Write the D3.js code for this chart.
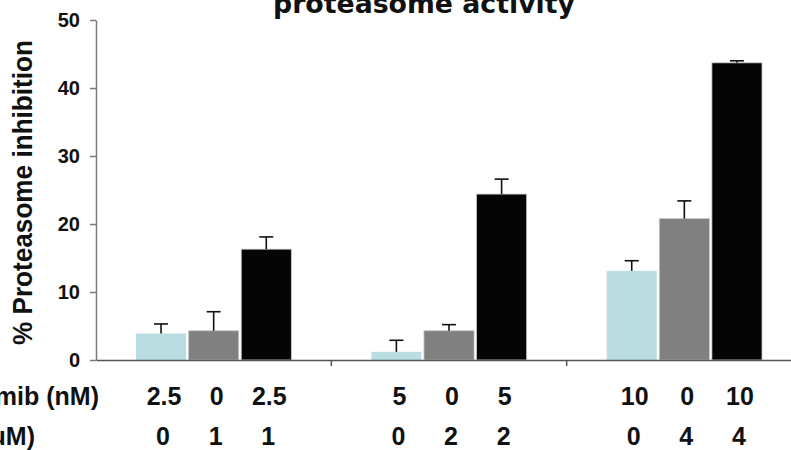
<!DOCTYPE html>
<html>
<head>
<meta charset="utf-8">
<script src="https://cdn.jsdelivr.net/npm/d3@7"></script>
<style>
  html, body { margin: 0; padding: 0; background: #fff; }
  svg { display: block; }
</style>
</head>
<body>
<svg id="chart" width="791" height="450"></svg>
<script>
// ---- data ----
const groups = ["g1", "g2", "g3"];
const series = ["bortezomib", "drug", "combination"];
const seriesColors = ["#b9dde1", "#808080", "#050505"];
const means = [
  [3.9, 4.3, 16.3],
  [1.2, 4.3, 24.4],
  [13.1, 20.8, 43.7]
];
const errors = [
  [1.4, 2.8, 1.8],
  [1.7, 0.9, 2.2],
  [1.5, 2.6, 0.3]
];
const row1Labels = [["2.5", "0", "2.5"], ["5", "0", "5"], ["10", "0", "10"]];
const row2Labels = [["0", "1", "1"], ["0", "2", "2"], ["0", "4", "4"]];
const row1Title = "Bortezomib (nM)";
const row2Title = "(uM)";
const yTicks = [0, 10, 20, 30, 40, 50];
const titleText = "proteasome activity";
const yLabelText = "% Proteasome inhibition";

(function () {
// ---- layout ----
const svg = d3.select("#chart");
const mLeft = 96, mRight = 802, mTop = 20, mBottom = 360;

const y = d3.scaleLinear().domain([0, 50]).range([mBottom, mTop]);
const x0 = d3.scaleBand().domain(groups).range([mLeft, mRight]).paddingInner(0).paddingOuter(0);
const bw0 = x0.bandwidth();
const x1 = d3.scaleBand().domain(series).range([bw0 * 0.17, bw0 * 0.83]).paddingInner(0.048);

// title
svg.append("text")
  .attr("x", 424).attr("y", 13)
  .attr("text-anchor", "middle")
  .attr("font-family", "DejaVu Sans, Verdana, sans-serif")
  .attr("font-weight", "bold")
  .attr("font-size", 26)
  .attr("textLength", 302).attr("lengthAdjust", "spacingAndGlyphs")
  .attr("fill", "#111")
  .text(titleText);

// y label
svg.append("text")
  .attr("transform", "translate(32," + ((40 + 345) / 2) + ") rotate(-90)")
  .attr("text-anchor", "middle")
  .attr("font-family", "Liberation Sans, Arial, sans-serif")
  .attr("font-weight", "bold")
  .attr("font-size", 28)
  .attr("textLength", 305).attr("lengthAdjust", "spacingAndGlyphs")
  .attr("fill", "#111")
  .text(yLabelText);

// y axis
const yAxis = d3.axisLeft(y).tickValues(yTicks).tickSize(6).tickPadding(10).tickSizeOuter(0);
const gy = svg.append("g").attr("transform", `translate(${mLeft},0)`).call(yAxis);
gy.select(".domain").attr("stroke", "#7a7a7a").attr("stroke-width", 1.5);
gy.selectAll(".tick line").attr("stroke", "#7a7a7a").attr("stroke-width", 1.5);
gy.selectAll(".tick text")
  .attr("font-family", "Liberation Sans, Arial, sans-serif")
  .attr("font-weight", "bold")
  .attr("font-size", 20)
  .attr("fill", "#111");

// bars
const gGroups = svg.append("g").selectAll("g").data(groups).join("g")
  .attr("transform", d => `translate(${x0(d)},0)`);

gGroups.each(function(g, gi) {
  const sel = d3.select(this);
  const rows = series.map((s, si) => ({ s, si, v: means[gi][si], e: errors[gi][si] }));
  sel.selectAll("rect").data(rows).join("rect")
    .attr("x", d => x1(d.s))
    .attr("y", d => y(d.v))
    .attr("width", x1.bandwidth())
    .attr("height", d => y(0) - y(d.v))
    .attr("fill", d => seriesColors[d.si])
    .attr("stroke", d => d.si === 0 ? "none" : "#c8c8c8")
    .attr("stroke-width", 0.8);
  // error bars (upper only)
  const eb = sel.selectAll("g.err").data(rows).join("g").attr("class", "err");
  eb.append("line")
    .attr("x1", d => x1(d.s) + x1.bandwidth() / 2)
    .attr("x2", d => x1(d.s) + x1.bandwidth() / 2)
    .attr("y1", d => y(d.v))
    .attr("y2", d => y(d.v + d.e))
    .attr("stroke", "#111").attr("stroke-width", 1.6);
  eb.append("line")
    .attr("x1", d => x1(d.s) + x1.bandwidth() / 2 - 7)
    .attr("x2", d => x1(d.s) + x1.bandwidth() / 2 + 7)
    .attr("y1", d => y(d.v + d.e))
    .attr("y2", d => y(d.v + d.e))
    .attr("stroke", "#111").attr("stroke-width", 1.6);
  // category labels
  sel.selectAll("text.r1").data(rows).join("text").attr("class", "r1")
    .attr("x", d => x1(d.s) + x1.bandwidth() / 2 + 3)
    .attr("y", 405)
    .attr("text-anchor", "middle")
    .attr("font-family", "Liberation Sans Narrow, Liberation Sans, Arial, sans-serif")
    .attr("font-weight", "bold").attr("font-size", 25).attr("fill", "#111")
    .text(d => row1Labels[gi][d.si]);
  sel.selectAll("text.r2").data(rows).join("text").attr("class", "r2")
    .attr("x", d => x1(d.s) + x1.bandwidth() / 2 + 2)
    .attr("y", 445)
    .attr("text-anchor", "middle")
    .attr("font-family", "Liberation Sans Narrow, Liberation Sans, Arial, sans-serif")
    .attr("font-weight", "bold").attr("font-size", 25).attr("fill", "#111")
    .text(d => row2Labels[gi][d.si]);
});

// x axis
const xAxis = d3.axisBottom(x0).tickValues([]).tickSizeOuter(0);
const gx = svg.append("g").attr("transform", `translate(0,${mBottom})`).call(xAxis);
gx.select(".domain").attr("stroke", "#555").attr("stroke-width", 1.5);
// group separator ticks
gx.selectAll("line.sep").data(groups.slice(1)).join("line").attr("class", "sep")
  .attr("x1", d => x0(d)).attr("x2", d => x0(d))
  .attr("y1", 0).attr("y2", 6)
  .attr("stroke", "#555").attr("stroke-width", 1.5);

// row titles
svg.append("text")
  .attr("x", 99).attr("y", 405).attr("text-anchor", "end")
  .attr("font-family", "Liberation Sans Narrow, Liberation Sans, Arial, sans-serif")
  .attr("font-weight", "bold").attr("font-size", 25).attr("fill", "#111")
  .text(row1Title);
svg.append("text")
  .attr("x", 35).attr("y", 445).attr("text-anchor", "end")
  .attr("font-family", "Liberation Sans Narrow, Liberation Sans, Arial, sans-serif")
  .attr("font-weight", "bold").attr("font-size", 25).attr("fill", "#111")
  .text(row2Title);
})();
</script>
</body>
</html>
